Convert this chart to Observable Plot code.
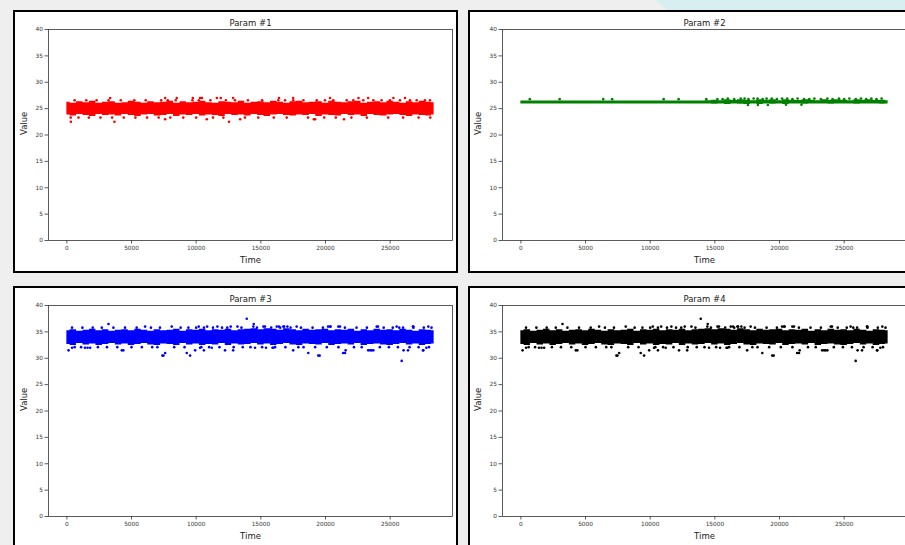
<!DOCTYPE html>
<html>
<head>
<meta charset="utf-8">
<script src="https://cdn.jsdelivr.net/npm/d3@7"></script>
<script src="https://cdn.jsdelivr.net/npm/@observablehq/plot@0.6"></script>
<style>
  html, body { margin: 0; padding: 0; }
  body { width: 905px; height: 545px; overflow: hidden; background: #efefef; position: relative; font-family: "DejaVu Sans", sans-serif; }
  .patch { position: absolute; left: 655px; top: 0; width: 260px; height: 10px; background: #d7eff1; clip-path: polygon(0 0, 100% 0, 100% 100%, 12px 100%); }
  .panel { position: absolute; border: 2px solid #000; background: #fff; width: 441px; height: 259px; }
  .panel svg { display: block; }
</style>
</head>
<body>
<div class="patch"></div>
<script>
// ---------- shared axis data ----------
const titles = ["Param #1", "Param #2", "Param #3", "Param #4"];
const xTicks = [0, 5000, 10000, 15000, 20000, 25000];
const yTicks = [0, 5, 10, 15, 20, 25, 30, 35, 40];
const xLabel = "Time";
const yLabel = "Value";

// time bins for the dense band of points
const bandT = [0,500,1000,1500,2000,2500,3000,3500,4000,4500,
  5000,5500,6000,6500,7000,7500,8000,8500,9000,9500,
  10000,10500,11000,11500,12000,12500,13000,13500,14000,14500,
  15000,15500,16000,16500,17000,17500,18000,18500,19000,19500,
  20000,20500,21000,21500,22000,22500,23000,23500,24000,24500,
  25000,25500,26000,26500,27000,27500,28000,28400];

// ---------- Param #1 ----------
const p1Hi = [26.2,26.0,26.3,26.1,26.4,26.0,26.2,26.3,26.0,26.1,
  26.4,26.2,26.0,26.3,26.1,26.2,26.4,26.0,26.3,26.1,
  26.2,26.4,26.1,26.0,26.3,26.2,26.1,26.4,26.0,26.2,
  26.3,26.1,26.4,26.2,26.0,26.3,26.4,26.1,26.2,26.3,
  26.0,26.4,26.2,26.1,26.3,26.4,26.0,26.2,26.3,26.1,
  26.4,26.2,26.0,26.3,26.1,26.4,26.2,26.1];
const p1Lo = [23.8,23.6,23.9,23.7,23.5,23.9,23.7,23.8,23.6,23.9,
  23.7,23.5,23.8,23.9,23.6,23.7,23.9,23.5,23.8,23.7,
  23.9,23.6,23.8,23.7,23.5,23.9,23.7,23.8,23.6,23.9,
  23.7,23.5,23.8,23.9,23.7,23.6,23.8,23.7,23.9,23.5,
  23.8,23.7,23.6,23.9,23.7,23.8,23.5,23.9,23.7,23.6,
  23.8,23.9,23.7,23.5,23.8,23.7,23.6,23.8];
const p1OutT = [600,1500,2300,3220,4170,5220,6100,7290,7800,8420,9710,10200,11100,12300,13000,14000,15100,16350,16870,17510,18290,19320,19960,20600,21640,22150,22920,23700,24340,24980,25760,26530,27050,27690,28080,
  3350,7600,8500,9740,10300,10450,11600,11900,12860,16400,17500,20350,22550,23300,25250,26150,
  300,900,1700,2600,3500,4400,5300,6200,7100,8000,9000,10000,11300,12100,13770,14800,16000,17000,18650,19900,20800,22000,23200,24850,26000,27200,28100,
  7600,10820,13400,19100,19200,21430,
  310,3680,12540];
const p1OutV = [26.6,26.6,26.6,26.6,26.6,26.6,26.6,26.6,26.6,26.6,26.6,26.6,26.6,26.6,26.6,26.6,26.6,26.6,26.6,26.6,26.6,26.6,26.6,26.6,26.6,26.6,26.6,26.6,26.6,26.6,26.6,26.6,26.6,26.6,26.6,
  27,27,27,27,27,27,27,27,27,27,27,27,27,27,27,27,
  23.3,23.3,23.3,23.3,23.3,23.3,23.3,23.3,23.3,23.3,23.3,23.3,23.3,23.3,23.3,23.3,23.3,23.3,23.3,23.3,23.3,23.3,23.3,23.3,23.3,23.3,23.3,
  23,23,23,23,23,23,
  22.5,22.5,22.5];

// ---------- Param #2 ----------
const p2Hi = [26.45,26.45,26.45,26.45,26.45,26.45,26.45,26.45,26.45,26.45,
  26.45,26.45,26.45,26.45,26.45,26.45,26.45,26.45,26.45,26.45,
  26.45,26.45,26.45,26.45,26.45,26.45,26.45,26.45,26.45,26.5,
  26.6,26.5,26.7,26.55,26.7,26.6,26.5,26.7,26.6,26.7,
  26.5,26.7,26.6,26.55,26.7,26.6,26.5,26.7,26.6,26.7,
  26.6,26.5,26.7,26.6,26.7,26.55,26.6,26.5];
const p2Lo = [25.9,25.9,25.9,25.9,25.9,25.9,25.9,25.9,25.9,25.9,
  25.9,25.9,25.9,25.9,25.9,25.9,25.9,25.9,25.9,25.9,
  25.9,25.9,25.9,25.9,25.9,25.9,25.9,25.9,25.9,25.9,
  25.85,25.9,25.8,25.9,25.85,25.8,25.9,25.8,25.9,25.85,
  25.9,25.8,25.9,25.9,25.85,25.9,25.9,25.9,25.85,25.9,
  25.9,25.9,25.85,25.9,25.9,25.9,25.85,25.9];
const p2OutT = [690,3000,6370,7060,11040,12200,14340,
  15200,15600,16000,16500,17000,17300,17600,18000,18300,18700,19000,19400,19800,20200,20600,21000,21400,21900,22300,22700,23200,23700,24100,24600,25000,25400,25900,26300,26700,27100,27500,27900,
  17560,18330,19100,20500,21700];
const p2OutV = [26.8,26.8,26.8,26.8,26.8,26.8,26.8,
  26.8,26.8,26.9,26.8,26.9,26.9,26.8,26.9,26.9,26.8,26.9,26.9,26.8,26.9,26.9,26.8,26.9,26.8,26.8,26.9,26.8,26.9,26.8,26.9,26.8,26.9,26.8,26.9,26.8,26.9,26.8,26.9,
  25.7,25.7,25.7,25.75,25.75];

// ---------- Param #3 (Param #4 shows the same readings) ----------
const p3Hi = [35.2,35.4,35.1,35.3,35.5,35.2,35.4,35.1,35.3,35.4,
  35.2,35.5,35.3,35.1,35.4,35.2,35.3,35.5,35.1,35.4,
  35.3,35.5,35.2,35.4,35.3,35.5,35.2,35.4,35.5,35.6,
  35.4,35.6,35.5,35.3,35.6,35.4,35.2,35.5,35.3,35.4,
  35.5,35.2,35.4,35.3,35.5,35.1,35.4,35.2,35.5,35.3,
  35.4,35.2,35.5,35.3,35.1,35.4,35.3,35.2];
const p3Lo = [32.6,32.4,32.8,32.5,32.7,32.4,32.6,32.8,32.5,32.7,
  32.4,32.6,32.8,32.5,32.4,32.7,32.6,32.4,32.8,32.5,
  32.7,32.4,32.6,32.5,32.8,32.4,32.7,32.5,32.6,32.8,
  32.5,32.7,32.4,32.6,32.8,32.5,32.4,32.7,32.6,32.5,
  32.8,32.4,32.6,32.7,32.5,32.8,32.4,32.6,32.7,32.5,
  32.4,32.6,32.8,32.5,32.7,32.4,32.6,32.7];
const p3OutT = [
  400,1200,2000,2700,3600,4500,5400,6500,7200,8800,9400,10000,10600,11300,12000,12400,13500,14700,15800,16500,17300,18100,19000,19800,21500,22400,23200,24500,25200,26000,26800,27600,28200,
  3220,6050,8110,10200,10850,11640,12670,13190,13910,14420,14450,15200,15320,16230,16400,16740,16800,17050,17770,20200,20350,20400,20990,21120,23960,24060,25500,25700,26760,26790,27950,
  600,1100,2400,3100,3900,5000,5800,6600,7000,8300,9100,10400,11000,11800,12900,13600,14200,15100,16100,16900,17900,18300,19200,20100,21000,22200,22800,24200,24900,25600,26500,27200,28000,
  130,400,1400,1600,1800,4250,4370,7390,7470,7600,9270,9530,9920,10300,10600,11200,12230,12860,14550,15400,15900,15970,17500,18670,19440,19550,21360,21510,21560,23300,23450,23570,23700,25890,26040,26380,27540,27560,27800];
const p3OutV = [
  35.8,35.8,35.8,35.8,35.8,35.8,35.8,35.8,35.8,35.8,35.8,35.8,35.8,35.8,35.8,35.8,35.8,35.8,35.8,35.8,35.8,35.8,35.8,35.8,35.8,35.8,35.8,35.8,35.8,35.8,35.8,35.8,35.8,
  36.5,36,36,36,36,36,36,36,37.5,36,36.5,36,36,36,36,36,36,36,36,36,36,36,36,36,36,36,36,35.8,36,36,36,
  32.1,32.1,32.1,32.1,32.1,32.1,32.1,32.1,32.1,32.1,32.1,32.1,32.1,32.1,32.1,32.1,32.1,32.1,32.1,32.1,32.1,32.1,32.1,32.1,32.1,32.1,32.1,32.1,32.1,32.1,32.1,32.1,32.1,
  31.5,32,32,32,32,31.5,31.5,30.5,30.5,31,31,30.5,31.5,32,31.5,32,31.5,31.5,32,32,32,32,31.5,31,30.5,30.5,31,31,31.5,31.5,31.5,31.5,31.5,29.5,31.5,31.5,31.5,31.5,32];

const p4Lo = p3Lo, p4Hi = p3Hi, p4OutT = p3OutT, p4OutV = p3OutV;

// ---------- styling / layout (not data) ----------
const colors = ["#ff0000", "#008000", "#0000ff", "#000000"];
const boxes = [
  {left: 13, top: 10, ml: 33, mr: 4},
  {left: 468, top: 10, ml: 32, mr: 5},
  {left: 13, top: 286, ml: 33, mr: 4},
  {left: 468, top: 286, ml: 32, mr: 5}
];

const series = [
  [p1Lo, p1Hi, p1OutT, p1OutV],
  [p2Lo, p2Hi, p2OutT, p2OutV],
  [p3Lo, p3Hi, p3OutT, p3OutV],
  [p4Lo, p4Hi, p4OutT, p4OutV]
];

series.forEach(([lo, hi, outT, outV], i) => {
  const band = bandT.map((t, k) => ({t, lo: lo[k], hi: hi[k]}));
  const pts = outT.map((t, k) => ({t, v: outV[k]}));
  const c = colors[i];
  const b = boxes[i];
  const chart = Plot.plot({
    width: 441,
    height: 259,
    marginLeft: b.ml,
    marginRight: b.mr,
    marginTop: 17,
    marginBottom: 31,
    style: {fontFamily: "DejaVu Sans", fontSize: "5.8px", color: "#333", background: "#fff", overflow: "visible"},
    x: {domain: [-1420, 29820]},
    y: {domain: [0, 40]},
    marks: [
      Plot.areaY(band, {x: "t", y1: "lo", y2: "hi", fill: c, curve: "step"}),
      Plot.dot(pts, {x: "t", y: "v", r: 1.3, fill: c, stroke: "none"}),
      Plot.frame({stroke: "#333", strokeWidth: 0.8}),
      Plot.axisX(xTicks, {tickSize: 3.5, tickPadding: 1.5, tickFormat: d3.format("d"), label: null, stroke: "#333", fill: "#333", strokeWidth: 0.8}),
      Plot.axisY(yTicks, {tickSize: 3.5, tickPadding: 2, label: null, stroke: "#333", fill: "#333", strokeWidth: 0.8}),
      Plot.text([titles[i]], {text: d => d, frameAnchor: "top", dy: -10, fontSize: 8.5, fill: "#222"}),
      Plot.text([xLabel], {text: d => d, frameAnchor: "bottom", dy: 22, fontSize: 8.5, fill: "#222"}),
      Plot.text([yLabel], {text: d => d, frameAnchor: "left", dx: -24, rotate: -90, fontSize: 8.5, fill: "#222"})
    ]
  });
  const div = document.createElement("div");
  div.className = "panel";
  div.style.left = b.left + "px";
  div.style.top = b.top + "px";
  div.appendChild(chart);
  document.body.appendChild(div);
});
</script>
</body>
</html>
